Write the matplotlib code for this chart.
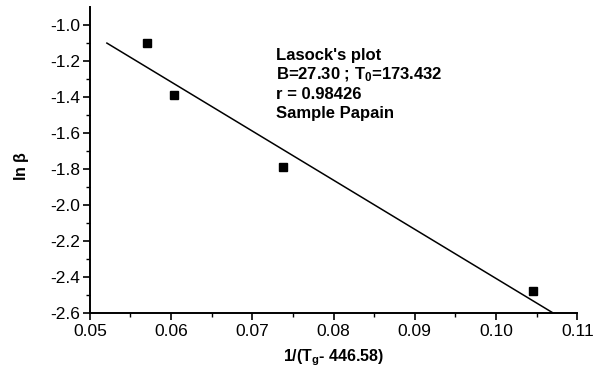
import matplotlib
matplotlib.use("Agg")
import matplotlib.pyplot as plt
import numpy as np

plt.rcParams['font.family'] = ['Liberation Sans', 'DejaVu Sans']
plt.rcParams['mathtext.default'] = 'regular'

# data
x_vals = [0.0570, 0.0604, 0.0738, 0.1045]
y_vals = [-1.10, -1.39, -1.79, -2.48]
fit_slope = -27.30
fit_intercept = 0.322
fit_x_range = [0.0521, 0.1069]
x_ticks = [0.05, 0.06, 0.07, 0.08, 0.09, 0.10, 0.11]
y_ticks = [-1.0, -1.2, -1.4, -1.6, -1.8, -2.0, -2.2, -2.4, -2.6]
annotation_lines = ["Lasock's plot", "B=27.30 ; T$_0$=173.432", "r = 0.98426", "Sample Papain"]

fig = plt.figure(figsize=(6.07, 3.70), dpi=100)
ax = fig.add_axes([0.148, 0.154, 0.803, 0.827])

fx = np.array(fit_x_range)
ax.plot(fx, fit_slope * fx + fit_intercept, color='black', lw=1.1)
ax.plot(x_vals, y_vals, linestyle='none', marker='s', color='black',
        markersize=5.5)

ax.set_xlim(0.05, 0.11)
ax.set_ylim(-2.6, -0.9)
ax.set_xticks(x_ticks)
ax.set_xticklabels([f"{t:.2f}" for t in x_ticks])
ax.set_yticks(y_ticks)
ax.set_yticklabels([f"{t:.1f}" for t in y_ticks])
ax.set_xticks(np.arange(0.055, 0.11, 0.01), minor=True)
ax.set_yticks(np.arange(-2.5, -0.9, 0.2), minor=True)

for s in ['top', 'right']:
    ax.spines[s].set_visible(False)
for s in ['left', 'bottom']:
    ax.spines[s].set_linewidth(1.4)

ax.tick_params(axis='both', which='major', direction='out', length=5, width=1.2,
               labelsize=12.5, colors='black')
ax.tick_params(axis='both', which='minor', direction='out', length=3, width=1.0)
ax.tick_params(axis='x', which='major', pad=3)
ax.tick_params(axis='y', which='major', pad=2)

ax.set_xlabel("1/(T$_g$- 446.58)", fontsize=11.5, fontweight='bold', labelpad=6)
fig.text(0.036, 0.55, r"ln $\beta$", rotation=90, fontsize=11.5, fontweight='bold',
         ha='center', va='center')

y0 = 0.841
for i, line in enumerate(annotation_lines):
    ax.text(0.3825, y0 - i * 0.0635, line, transform=ax.transAxes, fontsize=12,
            fontweight='bold', ha='left', va='center')

fig.savefig("out.png", dpi=100)
